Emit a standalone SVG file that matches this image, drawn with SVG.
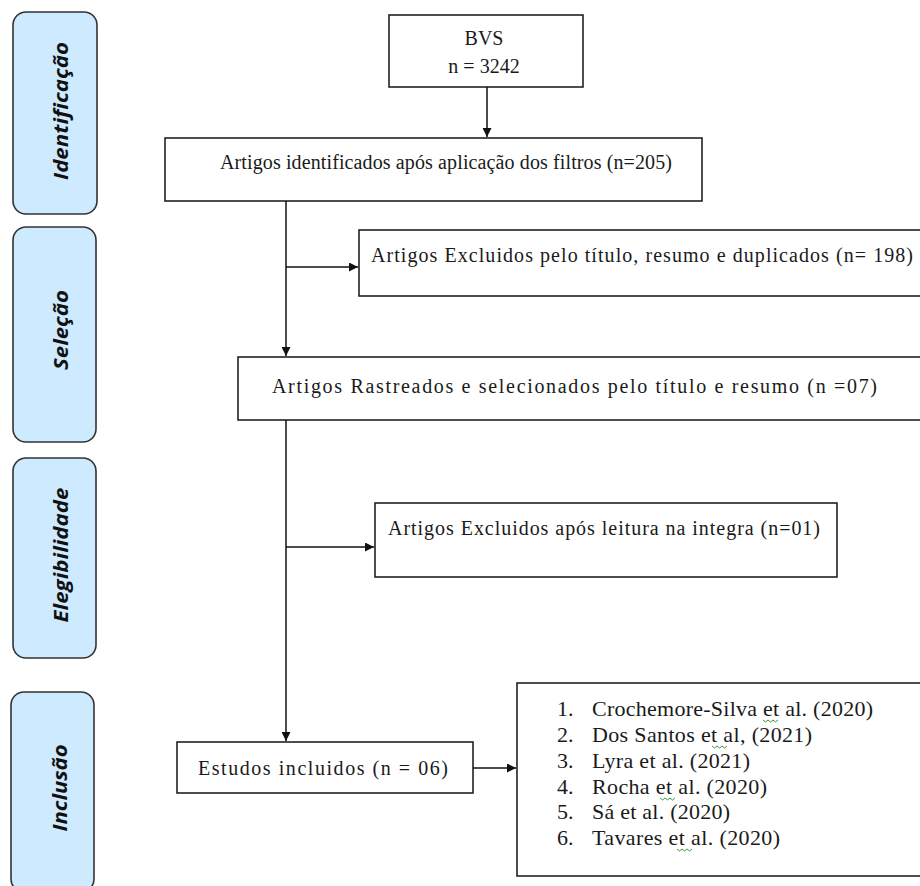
<svg xmlns="http://www.w3.org/2000/svg" width="920" height="886" viewBox="0 0 920 886">
<style>
.phase{fill:#cdeaff;stroke:#333;stroke-width:1.6}
.ph{font-family:"Open Sans","DejaVu Sans",sans-serif;font-weight:bold;font-style:italic;font-size:19px;fill:#111;text-anchor:middle}
.box{fill:#fff;stroke:#222;stroke-width:1.6}
.t{font-family:"Liberation Serif","Times New Roman",serif;font-size:20px;fill:#1a1a1a}
.c{text-anchor:middle}
.li{font-family:"Liberation Serif","Times New Roman",serif;font-size:22px;fill:#1a1a1a}
.conn line{stroke:#111;stroke-width:1.5;fill:none}
.sq{fill:none;stroke:#3a9a3a;stroke-width:1}
</style>
<defs>
<marker id="ah" viewBox="0 0 10 10" refX="10" refY="5" markerUnits="userSpaceOnUse" markerWidth="10" markerHeight="9" orient="auto">
<path d="M0,0 L10,5 L0,10 z" fill="#111"/>
</marker>
</defs>

<g id="phase-identificacao">
<rect class="phase" x="13" y="12" width="84" height="202" rx="13"/>
<text class="ph" transform="translate(68,111) rotate(-90)" textLength="138" lengthAdjust="spacingAndGlyphs">Identificação</text>
</g>
<g id="phase-selecao">
<rect class="phase" x="13" y="227" width="83" height="215" rx="13"/>
<text class="ph" transform="translate(68,330) rotate(-90)" textLength="80" lengthAdjust="spacingAndGlyphs">Seleção</text>
</g>
<g id="phase-elegibilidade">
<rect class="phase" x="13" y="458" width="83" height="200" rx="13"/>
<text class="ph" transform="translate(68,555) rotate(-90)" textLength="135" lengthAdjust="spacingAndGlyphs">Elegibilidade</text>
</g>
<g id="phase-inclusao">
<rect class="phase" x="11" y="692" width="83" height="200" rx="13"/>
<text class="ph" transform="translate(67,788) rotate(-90)" textLength="87" lengthAdjust="spacingAndGlyphs">Inclusão</text>
</g>

<g id="node-bvs">
<rect class="box" x="389" y="15" width="194" height="72"/>
<text class="t c" x="484" y="45">BVS</text>
<text class="t c" x="484" y="73">n = 3242</text>
</g>

<g id="node-identificados">
<rect class="box" x="165" y="138" width="537" height="63"/>
<text class="t" x="220" y="169" textLength="452" lengthAdjust="spacing">Artigos identificados após aplicação dos filtros (n=205)</text>
</g>

<g id="node-excluidos1">
<rect class="box" x="359" y="230" width="570" height="66"/>
<text class="t" x="371" y="262" textLength="542" lengthAdjust="spacing">Artigos Excluidos pelo título, resumo e duplicados (n= 198)</text>
</g>

<g id="node-rastreados">
<rect class="box" x="238" y="357" width="690" height="63"/>
<text class="t" x="272" y="393" textLength="605" lengthAdjust="spacing">Artigos Rastreados e selecionados pelo título e resumo (n =07)</text>
</g>

<g id="node-excluidos2">
<rect class="box" x="375" y="503" width="462" height="74"/>
<text class="t" x="388" y="535" textLength="432" lengthAdjust="spacing">Artigos Excluidos após leitura na integra (n=01)</text>
</g>

<g id="node-incluidos">
<rect class="box" x="177" y="742" width="296" height="51"/>
<text class="t" x="198" y="775" textLength="250" lengthAdjust="spacing">Estudos incluidos (n = 06)</text>
</g>

<g id="node-lista">
<rect class="box" x="517" y="683" width="412" height="193"/>
<text class="li" x="557" y="716">1.</text>
<text class="li" x="592" y="716" textLength="281" lengthAdjust="spacing">Crochemore-Silva et al. (2020)</text>
<text class="li" x="557" y="742">2.</text>
<text class="li" x="592" y="742" textLength="220" lengthAdjust="spacing">Dos Santos et al, (2021)</text>
<text class="li" x="557" y="768">3.</text>
<text class="li" x="592" y="768" textLength="158" lengthAdjust="spacing">Lyra et al. (2021)</text>
<text class="li" x="557" y="794">4.</text>
<text class="li" x="592" y="794" textLength="175" lengthAdjust="spacing">Rocha et al. (2020)</text>
<text class="li" x="557" y="819">5.</text>
<text class="li" x="592" y="819" textLength="138" lengthAdjust="spacing">Sá et al. (2020)</text>
<text class="li" x="557" y="845">6.</text>
<text class="li" x="592" y="845" textLength="188" lengthAdjust="spacing">Tavares et al. (2020)</text>
<path class="sq" d="M763,720 l2.5,2 l2.5,-2 l2.5,2 l2.5,-2 l2.5,2 l2.5,-2"/>
<path class="sq" d="M712,746 l2.5,2 l2.5,-2 l2.5,2 l2.5,-2 l2.5,2 l2.5,-2"/>
<path class="sq" d="M660,798 l2.5,2 l2.5,-2 l2.5,2 l2.5,-2 l2.5,2 l2.5,-2"/>
<path class="sq" d="M677,849 l2.5,2 l2.5,-2 l2.5,2 l2.5,-2 l2.5,2 l2.5,-2"/>
</g>

<g id="connectors" class="conn">
<line x1="487" y1="87" x2="487" y2="137" marker-end="url(#ah)"/>
<line x1="286" y1="201" x2="286" y2="356" marker-end="url(#ah)"/>
<line x1="286" y1="267" x2="358" y2="267" marker-end="url(#ah)"/>
<line x1="286" y1="420" x2="286" y2="741" marker-end="url(#ah)"/>
<line x1="286" y1="547" x2="374" y2="547" marker-end="url(#ah)"/>
<line x1="473" y1="768" x2="516" y2="768" marker-end="url(#ah)"/>
</g>
</svg>
